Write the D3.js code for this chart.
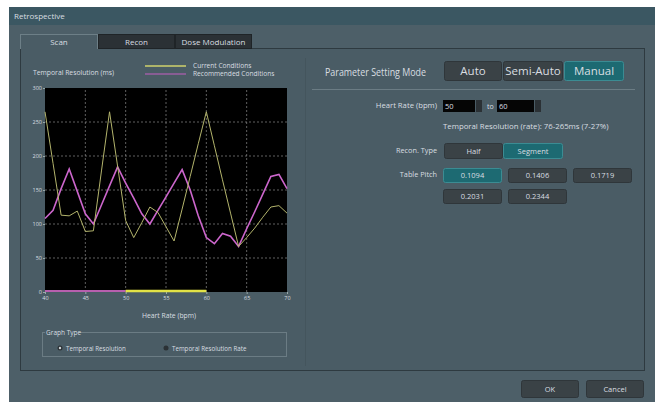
<!DOCTYPE html>
<html><head><meta charset="utf-8">
<script src="https://cdn.jsdelivr.net/npm/d3@7"></script>
<style>
html,body{margin:0;padding:0;background:#fff;}
svg{display:block;font-family:"Open Sans","DejaVu Sans",sans-serif;}
</style></head>
<body><svg id="c" width="655" height="402"></svg>
<script>
// ---- data ----
const heartRates = [40,41,42,43,44,45,46,47,48,49,50,51,52,53,54,55,56,57,58,59,60,61,62,63,64,65,66,67,68,69,70];
const currentConditions = [265,189,113,112,119,89,90,178,265,185,105,80,102,125,117,96,75,122,170,218,265,215,165,116,67,80,94,110,125,127,116];
const recommendedConditions = [108,120,152,181,148,115,100,128,156,184,160,138,115,100,120,140,160,180,150,112,80,71,86,82,67,93,118,144,170,173,152];
const currentRange = [50,60];
const recommendedRange = [40,50];
const yTicks = [0,50,100,150,200,250,300];
const xTicks = [40,45,50,55,60,65,70];
const tabs = ["Scan","Recon","Dose Modulation"];
const modes = ["Auto","Semi-Auto","Manual"];
const reconTypes = ["Half","Segment"];
const tablePitches = ["0.1094","0.1406","0.1719","0.2031","0.2344"];

const svg = d3.select("#c");
const txt = "#d9dee1";

// window
svg.append("rect").attr("x",9).attr("y",7).attr("width",646).attr("height",395).attr("fill","#4d5f68");
svg.append("rect").attr("x",9).attr("y",7).attr("width",646).attr("height",18).attr("fill","#3b5762");
svg.append("text").attr("x",14).attr("y",19).attr("fill",txt).attr("font-size",8).text("Retrospective");

// main panel
svg.append("rect").attr("x",20.5).attr("y",48.5).attr("width",624).attr("height",322)
  .attr("fill","#4a5c65").attr("stroke","#2e3a40");
// tabs
const tabX = [20,98,175,252];
tabs.forEach((t,i)=>{
  svg.append("rect").attr("x",tabX[i]+0.5).attr("y",34.5).attr("width",tabX[i+1]-tabX[i]-1).attr("height",14)
    .attr("fill", i===0 ? "#4a5c65" : "#2b3135").attr("stroke", i===0 ? "#6d7f87" : "#1f2427");
  svg.append("text").attr("x",(tabX[i]+tabX[i+1])/2).attr("y",44.5).attr("text-anchor","middle")
    .attr("fill",txt).attr("font-size",8).text(t);
});
svg.append("rect").attr("x",21).attr("y",48).attr("width",76).attr("height",2).attr("fill","#4a5c65");

// chart group separator
svg.append("line").attr("x1",305.5).attr("x2",305.5).attr("y1",58).attr("y2",366).attr("stroke","#44555d");

// ---- chart ----
const x = d3.scaleLinear().domain([40,70]).range([45,287]);
const y = d3.scaleLinear().domain([0,300]).range([292,88]);

svg.append("rect").attr("x",x(40)).attr("y",y(300)).attr("width",x(70)-x(40)).attr("height",y(0)-y(300)).attr("fill","#000");

const g = svg.append("g");
g.selectAll(".hg").data(yTicks.filter(d=>d>0 && d<300)).join("line")
  .attr("x1",x(40)).attr("x2",x(70)).attr("y1",d=>y(d)).attr("y2",d=>y(d))
  .attr("stroke","#8a8a8a").attr("stroke-width",0.7).attr("stroke-dasharray","2,2");
g.selectAll(".vg").data(xTicks.filter(d=>d>40 && d<70)).join("line")
  .attr("x1",d=>x(d)).attr("x2",d=>x(d)).attr("y1",y(0)).attr("y2",y(300))
  .attr("stroke","#8a8a8a").attr("stroke-width",0.7).attr("stroke-dasharray","2,2");

// axes
const yAxis = d3.axisLeft(y).tickValues(yTicks).tickSize(2).tickPadding(1);
const ya = svg.append("g").attr("transform",`translate(${x(40)},0)`).call(yAxis);
const xAxis = d3.axisBottom(x).tickValues(xTicks).tickSize(2).tickPadding(2);
const xa = svg.append("g").attr("transform",`translate(0,${y(0)})`).call(xAxis);
[ya,xa].forEach(a=>{
  a.select(".domain").remove();
  a.selectAll("line").attr("stroke","#9aa");
  a.selectAll("text").attr("fill",txt).attr("font-size",5.5).attr("font-family","Open Sans, sans-serif");
});

const line = d3.line().x((d,i)=>x(heartRates[i])).y(d=>y(d));
svg.append("path").datum(recommendedConditions).attr("d",line).attr("fill","none")
  .attr("stroke","#cc66cc").attr("stroke-width",1.6);
svg.append("path").datum(currentConditions).attr("d",line).attr("fill","none")
  .attr("stroke","#b3b46c").attr("stroke-width",1);

// ranges along baseline
svg.append("line").attr("x1",x(recommendedRange[0])).attr("x2",x(recommendedRange[1]))
  .attr("y1",y(0)-1).attr("y2",y(0)-1).attr("stroke","#b75fae").attr("stroke-width",2);
svg.append("line").attr("x1",x(currentRange[0])).attr("x2",x(currentRange[1]))
  .attr("y1",y(0)-1).attr("y2",y(0)-1).attr("stroke","#e2e246").attr("stroke-width",2.5);

// chart labels
svg.append("text").attr("x",33).attr("y",75).attr("fill",txt).attr("font-size",6.8).text("Temporal Resolution (ms)");
svg.append("line").attr("x1",145).attr("x2",186).attr("y1",66).attr("y2",66).attr("stroke","#d0d26c").attr("stroke-width",1.5);
svg.append("line").attr("x1",145).attr("x2",186).attr("y1",74).attr("y2",74).attr("stroke","#c65ec4").attr("stroke-width",1.2);
svg.append("text").attr("x",193).attr("y",68).attr("fill",txt).attr("font-size",6.6).text("Current Conditions");
svg.append("text").attr("x",193).attr("y",76).attr("fill",txt).attr("font-size",6.6).text("Recommended Conditions");
svg.append("text").attr("x",169).attr("y",318).attr("text-anchor","middle").attr("fill",txt).attr("font-size",6.8).text("Heart Rate (bpm)");

// graph type box
svg.append("rect").attr("x",42.5).attr("y",332.5).attr("width",244).attr("height",24).attr("fill","none").attr("stroke","#6b7c84");
svg.append("rect").attr("x",45).attr("y",329).attr("width",34).attr("height",7).attr("fill","#4a5c65");
svg.append("text").attr("x",46).attr("y",335).attr("fill",txt).attr("font-size",6.5).text("Graph Type");
svg.append("circle").attr("cx",60).attr("cy",348).attr("r",2.5).attr("fill","#2b3135");
svg.append("circle").attr("cx",60).attr("cy",348).attr("r",1.2).attr("fill","#d0d5d8");
svg.append("text").attr("x",66).attr("y",350.5).attr("fill",txt).attr("font-size",6.2).text("Temporal Resolution");
svg.append("circle").attr("cx",166).attr("cy",348).attr("r",2.5).attr("fill","#2b3135");
svg.append("text").attr("x",172).attr("y",350.5).attr("fill",txt).attr("font-size",6.2).text("Temporal Resolution Rate");

// ---- right side ----
function button(x0,y0,w,h,label,active,fs){
  svg.append("rect").attr("x",x0+0.5).attr("y",y0+0.5).attr("width",w-1).attr("height",h-1).attr("rx",2)
    .attr("fill",active?"#1d6a72":"#3a4246").attr("stroke",active?"#3b8c93":"#2f363a");
  svg.append("text").attr("x",x0+w/2).attr("y",y0+h/2+fs*0.36).attr("text-anchor","middle")
    .attr("fill",txt).attr("font-size",fs).text(label);
}
svg.append("text").attr("x",325).attr("y",76).attr("fill",txt).attr("font-size",11.5)
  .attr("textLength",101).attr("lengthAdjust","spacingAndGlyphs").text("Parameter Setting Mode");
const modeX=[444,503,564,625];
modes.forEach((m,i)=>button(modeX[i],61,modeX[i+1]-modeX[i]-1,20,m,i===2,11.5));
svg.append("line").attr("x1",312).attr("x2",635).attr("y1",89.5).attr("y2",89.5).attr("stroke","#6b7c84");

svg.append("text").attr("x",437).attr("y",108).attr("text-anchor","end").attr("fill",txt).attr("font-size",7.7).text("Heart Rate (bpm)");
svg.append("rect").attr("x",443).attr("y",100).attr("width",32).attr("height",12).attr("fill","#050505");
svg.append("text").attr("x",445).attr("y",109).attr("fill",txt).attr("font-size",7.5).text("50");
svg.append("rect").attr("x",476).attr("y",100).attr("width",6).attr("height",12).attr("fill","#2b3135");
svg.append("text").attr("x",487).attr("y",109).attr("fill",txt).attr("font-size",7).text("to");
svg.append("rect").attr("x",497).attr("y",100).attr("width",37).attr("height",12).attr("fill","#050505");
svg.append("text").attr("x",499).attr("y",109).attr("fill",txt).attr("font-size",7.5).text("60");
svg.append("rect").attr("x",535).attr("y",100).attr("width",6).attr("height",12).attr("fill","#2b3135");
svg.append("text").attr("x",443).attr("y",129).attr("fill",txt).attr("font-size",7.8).text("Temporal Resolution (rate): 76-265ms (7-27%)");

svg.append("text").attr("x",437).attr("y",153).attr("text-anchor","end").attr("fill",txt).attr("font-size",7.3).text("Recon. Type");
button(444,143,59,16,"Half",false,7.5);
button(503,143,60,16,"Segment",true,7.5);

svg.append("text").attr("x",437).attr("y",177).attr("text-anchor","end").attr("fill",txt).attr("font-size",7.3).text("Table Pitch");
tablePitches.forEach((p,i)=>{
  const col=i%3,row=Math.floor(i/3);
  button(443+col*65,168+row*21,59,15,p,i===0,7.5);
});

button(521,380,58,18,"OK",false,7.5);
button(586,380,58,18,"Cancel",false,7.5);
</script></body></html>
